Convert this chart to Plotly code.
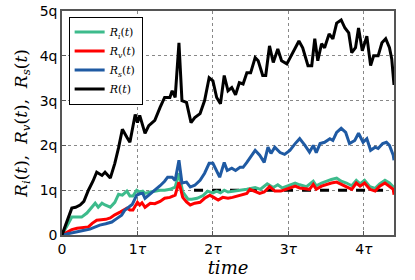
import plotly.graph_objects as go

# ---- data ----
t_R = [0,0.05,0.13,0.18,0.24,0.29,0.35,0.41,0.46,0.53,0.57,0.64,0.7,0.75,0.8,0.86,0.9,0.97,1.0,1.03,
       1.1,1.15,1.23,1.3,1.36,1.43,1.46,1.5,1.55,1.59,1.65,1.71,1.76,1.83,1.89,1.95,2.0,2.05,2.1,2.15,
       2.2,2.25,2.3,2.35,2.4,2.45,2.5,2.56,2.6,2.66,2.7,2.75,2.8,2.86,2.91,2.98,3.05,3.14,3.19,3.26,
       3.31,3.35,3.39,3.44,3.48,3.54,3.59,3.64,3.7,3.75,3.8,3.84,3.89,3.93,3.98,4.04,4.09,4.13,4.19,
       4.24,4.29,4.34,4.37,4.4]
R = [0,0.25,0.6,0.62,0.67,0.75,1.0,1.2,1.4,1.33,1.4,1.27,1.6,1.95,2.36,2.18,2.07,2.69,2.51,2.67,
     2.27,2.44,2.56,2.85,3.07,3.07,3.22,3.07,4.29,3.0,2.96,2.51,2.62,2.71,3.0,3.51,3.44,3.07,2.93,3.56,
     3.22,3.29,3.13,3.4,3.37,3.62,3.62,3.96,3.89,3.56,3.56,4.22,3.85,4.15,3.89,3.82,4.04,4.33,4.18,3.78,
     3.78,4.38,3.89,4.27,4.18,4.49,4.38,4.73,4.8,4.62,4.51,4.07,4.18,4.62,4.11,4.44,3.78,4.0,4.0,
     4.29,4.38,4.18,3.93,3.35]

t_i = [0,0.07,0.13,0.2,0.26,0.33,0.4,0.44,0.48,0.53,0.57,0.64,0.7,0.75,0.8,0.86,0.9,0.94,0.99,1.03,
       1.07,1.1,1.17,1.23,1.3,1.36,1.43,1.5,1.55,1.6,1.67,1.72,1.79,1.87,1.93,2.0,2.05,2.1,2.15,2.2,
       2.3,2.4,2.45,2.5,2.56,2.63,2.72,2.8,2.86,2.92,3.02,3.09,3.15,3.24,3.33,3.37,3.44,3.5,3.57,3.64,
       3.7,3.77,3.84,3.9,3.95,4.01,4.08,4.15,4.21,4.28,4.34,4.4]
R_i = [0,0.22,0.4,0.4,0.4,0.49,0.62,0.71,0.62,0.71,0.67,0.62,0.73,0.91,0.89,0.98,0.87,0.87,1.0,0.96,
       0.98,0.93,0.96,0.98,1.0,1.0,1.02,1.07,1.38,0.96,0.8,0.8,0.82,0.88,0.98,0.94,0.98,0.94,1.0,0.96,
       0.98,1.0,1.02,1.04,1.06,1.02,1.14,1.06,1.12,1.05,1.12,1.16,1.12,1.08,1.2,1.1,1.16,1.2,1.24,1.27,
       1.2,1.16,1.1,1.22,1.14,1.22,1.08,1.04,1.14,1.22,1.16,1.06]

t_v = [0,0.07,0.13,0.2,0.28,0.35,0.4,0.46,0.52,0.58,0.64,0.7,0.77,0.82,0.86,0.9,0.94,1.0,1.03,1.06,
       1.1,1.17,1.23,1.3,1.36,1.43,1.5,1.55,1.6,1.65,1.7,1.76,1.83,1.89,1.96,2.01,2.07,2.13,2.2,2.26,
       2.36,2.45,2.49,2.56,2.62,2.68,2.75,2.82,2.9,3.02,3.09,3.15,3.24,3.28,3.33,3.37,3.44,3.5,3.57,3.64,
       3.7,3.77,3.84,3.9,3.95,4.01,4.08,4.15,4.21,4.28,4.34,4.39,4.4]
R_v = [0,0.07,0.12,0.15,0.16,0.18,0.26,0.33,0.34,0.35,0.38,0.45,0.51,0.55,0.6,0.56,0.56,0.73,0.67,0.72,
       0.62,0.71,0.7,0.75,0.82,0.84,0.89,1.18,0.84,0.74,0.67,0.71,0.73,0.82,0.89,0.84,0.78,0.84,0.82,0.84,
       0.89,0.93,1.02,0.98,0.93,0.96,1.08,0.98,0.98,1.05,1.09,1.05,1.02,1.02,1.13,1.02,1.09,1.13,1.16,1.18,
       1.13,1.09,1.02,1.16,1.09,1.16,1.02,0.98,1.09,1.16,1.09,1.02,0.9]

t_s = [0,0.1,0.2,0.28,0.37,0.45,0.5,0.58,0.66,0.72,0.79,0.83,0.87,0.93,0.99,1.03,1.07,1.1,1.17,1.23,
       1.3,1.36,1.4,1.46,1.5,1.55,1.59,1.65,1.7,1.76,1.83,1.89,1.95,2.0,2.05,2.09,2.15,2.19,2.25,2.3,
       2.36,2.4,2.45,2.49,2.56,2.62,2.68,2.73,2.77,2.82,2.89,2.95,3.02,3.09,3.15,3.22,3.28,3.33,3.37,3.42,
       3.48,3.55,3.59,3.64,3.7,3.76,3.81,3.88,3.93,3.99,4.04,4.09,4.15,4.19,4.25,4.3,4.34,4.39,4.4]
R_s = [0,0.04,0.07,0.1,0.13,0.18,0.22,0.25,0.29,0.36,0.44,0.55,0.6,0.68,0.89,0.92,0.93,0.82,0.92,1.0,
       1.1,1.2,1.29,1.29,1.22,1.67,1.16,1.18,1.07,1.11,1.22,1.38,1.6,1.6,1.44,1.29,1.62,1.44,1.49,1.44,
       1.51,1.51,1.62,1.71,1.89,1.78,1.62,1.96,1.82,1.96,1.84,1.8,1.89,2.04,2.15,2.0,1.85,2.0,1.84,2.04,
       2.07,2.15,2.11,2.29,2.38,2.29,2.04,2.11,2.27,2.07,2.15,1.89,1.96,1.93,2.04,2.07,2.0,1.78,1.67]

ref_t = [1.75, 4.4]
ref_v = [1.0, 1.0]

x_ticks = [0, 1, 2, 3, 4]
x_ticktext = ["0", "1<i>τ</i>", "2<i>τ</i>", "3<i>τ</i>", "4<i>τ</i>"]
y_ticks = [0, 1, 2, 3, 4, 5]
y_ticktext = ["0", "1q", "2q", "3q", "4q", "5q"]

GREEN = "#3dbb8c"
RED = "#ff0000"
BLUE = "#1f5aa3"
BLACK = "#000000"

fig = go.Figure()
fig.add_trace(go.Scatter(x=ref_t, y=ref_v, mode="lines", showlegend=False,
                         line=dict(color=BLACK, width=3, dash="dash")))
fig.add_trace(go.Scatter(x=t_i, y=R_i, mode="lines", name="<i>R<sub>i</sub></i>(<i>t</i>)",
                         line=dict(color=GREEN, width=3)))
fig.add_trace(go.Scatter(x=t_v, y=R_v, mode="lines", name="<i>R<sub>v</sub></i>(<i>t</i>)",
                         line=dict(color=RED, width=3)))
fig.add_trace(go.Scatter(x=t_s, y=R_s, mode="lines", name="<i>R<sub>s</sub></i>(<i>t</i>)",
                         line=dict(color=BLUE, width=3)))
fig.add_trace(go.Scatter(x=t_R, y=R, mode="lines", name="<i>R</i>(<i>t</i>)",
                         line=dict(color=BLACK, width=3)))

axis_common = dict(showline=True, linecolor="#555555", linewidth=1.5, mirror=True,
                   showgrid=True, gridcolor="#888888", griddash="dot", gridwidth=1,
                   zeroline=False, ticks="inside", ticklen=4, tickcolor="#555555",
                   automargin=False,
                   tickfont=dict(family="DejaVu Sans", size=14, color="black"))

fig.update_layout(
    width=415, height=280,
    margin=dict(l=62, r=21, t=11, b=45),
    paper_bgcolor="white", plot_bgcolor="white",
    xaxis=dict(range=[0, 4.4], tickvals=x_ticks, ticktext=x_ticktext,
               title=dict(text="<i>time</i>", font=dict(family="DejaVu Serif", size=18, color="black"),
                          standoff=2),
               **axis_common),
    yaxis=dict(range=[0, 5], tickvals=y_ticks, ticktext=y_ticktext,
               title=dict(text="<i>R<sub>i</sub></i>(<i>t</i>),  <i>R<sub>v</sub></i>(<i>t</i>),  <i>R<sub>s</sub></i>(<i>t</i>)",
                          font=dict(family="DejaVu Serif", size=17, color="black"), standoff=8),
               **axis_common),
    legend=dict(x=0.02, y=0.975, xanchor="left", yanchor="top",
                bgcolor="white", bordercolor="black", borderwidth=1,
                font=dict(family="DejaVu Serif", size=11, color="black"),
                tracegroupgap=0, itemwidth=30),
    showlegend=True,
)

fig.write_html("out.html", config={"displayModeBar": False},
               post_script="document.body.style.margin='0';document.body.style.overflow='hidden';")
